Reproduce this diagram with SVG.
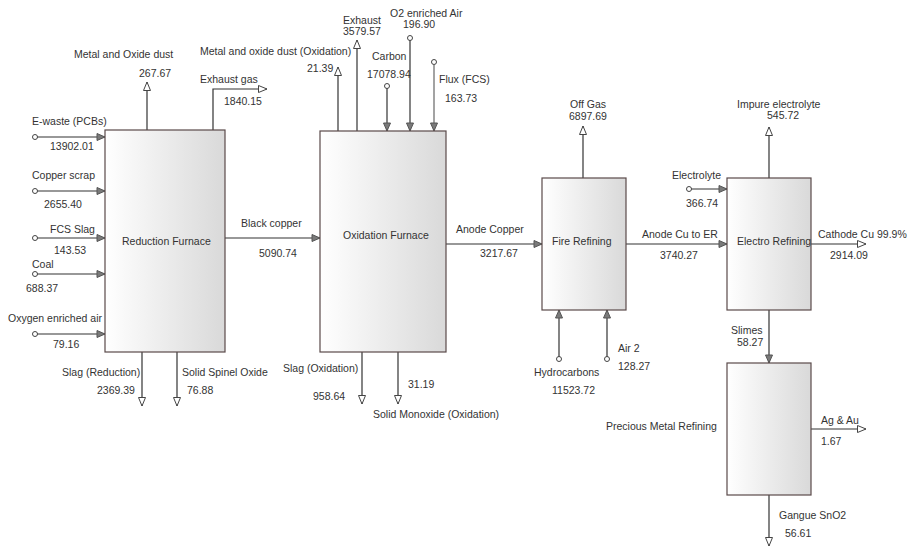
<svg xmlns="http://www.w3.org/2000/svg" width="908" height="547" viewBox="0 0 908 547">
<defs>
<linearGradient id="boxfill" x1="0" y1="0" x2="1" y2="0">
<stop offset="0" stop-color="#ffffff"/>
<stop offset="1" stop-color="#d9d9d9"/>
</linearGradient>
<marker id="inArrow" markerUnits="userSpaceOnUse" markerWidth="10" markerHeight="9" refX="9" refY="4" orient="auto">
<path d="M1,0.5 L9,4 L1,7.5 z" fill="#7a7a7a" stroke="#555" stroke-width="1"/>
</marker>
<marker id="outArrow" markerUnits="userSpaceOnUse" markerWidth="11" markerHeight="10" refX="9.5" refY="4.5" orient="auto">
<path d="M1,1 L9.5,4.5 L1,8 z" fill="#fff" stroke="#444" stroke-width="1"/>
</marker>
</defs>
<style>
text{font-family:"Liberation Sans",Arial,sans-serif;font-size:10.5px;fill:#333}
.box{fill:url(#boxfill);stroke:#5a4a4a;stroke-width:1.2}
.ln{fill:none;stroke:#333;stroke-width:1.2}
.in{marker-end:url(#inArrow)}
.out{marker-end:url(#outArrow)}
.src{fill:#fff;stroke:#444;stroke-width:1}
</style>
<rect width="908" height="547" fill="#fff"/>

<g id="connectors">
<circle class="src" cx="35" cy="137" r="2.5"/>
<path class="ln in" d="M37.5,137 H105"/>
<circle class="src" cx="35" cy="191" r="2.5"/>
<path class="ln in" d="M37.5,191 H105"/>
<circle class="src" cx="35" cy="238" r="2.5"/>
<path class="ln in" d="M37.5,238 H105"/>
<circle class="src" cx="35" cy="274" r="2.5"/>
<path class="ln in" d="M37.5,274 H105"/>
<circle class="src" cx="35" cy="334" r="2.5"/>
<path class="ln in" d="M37.5,334 H105"/>
<path class="ln out" d="M147,130 V82"/>
<path class="ln out" d="M213,130 V89 H267"/>
<path class="ln out" d="M142,352 V406"/>
<path class="ln out" d="M177,352 V406"/>
<path class="ln in" d="M225,238 H320"/>
<path class="ln out" d="M338,131 V67"/>
<path class="ln out" d="M357,131 V40"/>
<circle class="src" cx="387" cy="86" r="2.5"/>
<path class="ln in" d="M387,88.5 V131"/>
<circle class="src" cx="410" cy="38" r="2.5"/>
<path class="ln in" d="M410,40.5 V131"/>
<circle class="src" cx="434" cy="62" r="2.5"/>
<path class="ln in" d="M434,64.5 V131" style="stroke:#666"/>
<path class="ln out" d="M362,352 V404"/>
<path class="ln out" d="M398,352 V404"/>
<path class="ln in" d="M446,244 H542"/>
<path class="ln out" d="M583,178 V126"/>
<circle class="src" cx="559" cy="359" r="2.5"/>
<path class="ln in" d="M559,356.5 V310"/>
<circle class="src" cx="607" cy="359" r="2.5"/>
<path class="ln in" d="M607,356.5 V310"/>
<path class="ln in" d="M626,244 H727"/>
<circle class="src" cx="689" cy="189" r="2.5"/>
<path class="ln in" d="M691.5,189 H727"/>
<path class="ln out" d="M769,178 V127"/>
<path class="ln out" d="M811,244 H866"/>
<path class="ln in" d="M769,310 V363"/>
<path class="ln out" d="M811,429 H866"/>
<path class="ln out" d="M769,495 V546"/>
</g>

<g id="reduction-furnace">
<rect class="box" x="105" y="130" width="120" height="222"/>
<text x="122" y="245">Reduction Furnace</text>
</g>
<g id="oxidation-furnace">
<rect class="box" x="320" y="131" width="126" height="221"/>
<text x="343" y="239">Oxidation Furnace</text>
</g>
<g id="fire-refining">
<rect class="box" x="542" y="178" width="84" height="132"/>
<text x="552" y="245">Fire Refining</text>
</g>
<g id="electro-refining">
<rect class="box" x="727" y="178" width="84" height="132"/>
<text x="737" y="245">Electro Refining</text>
</g>
<g id="precious-metal-refining">
<rect class="box" x="727" y="363" width="84" height="132"/>
<text x="606" y="430">Precious Metal Refining</text>
</g>

<g id="labels">
<text x="32" y="125">E-waste (PCBs)</text>
<text x="50" y="150">13902.01</text>
<text x="32" y="179">Copper scrap</text>
<text x="44" y="208">2655.40</text>
<text x="50" y="233">FCS Slag</text>
<text x="54" y="254">143.53</text>
<text x="32" y="268">Coal</text>
<text x="26" y="292">688.37</text>
<text x="8" y="322">Oxygen enriched air</text>
<text x="53" y="348">79.16</text>
<text x="74" y="58">Metal and Oxide dust</text>
<text x="139" y="77">267.67</text>
<text x="200" y="83">Exhaust gas</text>
<text x="224" y="105">1840.15</text>
<text x="62" y="376">Slag (Reduction)</text>
<text x="97" y="394">2369.39</text>
<text x="182" y="376">Solid Spinel Oxide</text>
<text x="187" y="394">76.88</text>
<text x="241" y="227">Black copper</text>
<text x="259" y="257">5090.74</text>
<text x="200" y="55">Metal and oxide dust (Oxidation)</text>
<text x="307" y="72">21.39</text>
<text x="343" y="24">Exhaust</text>
<text x="343" y="35">3579.57</text>
<text x="372" y="60">Carbon</text>
<text x="367" y="78">17078.94</text>
<text x="390" y="17">O2 enriched Air</text>
<text x="403" y="28">196.90</text>
<text x="439" y="83">Flux (FCS)</text>
<text x="445" y="102">163.73</text>
<text x="283" y="372">Slag (Oxidation)</text>
<text x="313" y="400">958.64</text>
<text x="408" y="388">31.19</text>
<text x="373" y="418">Solid Monoxide (Oxidation)</text>
<text x="456" y="233">Anode Copper</text>
<text x="480" y="257">3217.67</text>
<text x="570" y="108">Off Gas</text>
<text x="569" y="120">6897.69</text>
<text x="534" y="376">Hydrocarbons</text>
<text x="552" y="394">11523.72</text>
<text x="618" y="352">Air 2</text>
<text x="618" y="370">128.27</text>
<text x="642" y="238">Anode Cu to ER</text>
<text x="660" y="259">3740.27</text>
<text x="672" y="179">Electrolyte</text>
<text x="686" y="207">366.74</text>
<text x="737" y="108">Impure electrolyte</text>
<text x="767" y="119">545.72</text>
<text x="818" y="238">Cathode Cu 99.9%</text>
<text x="830" y="259">2914.09</text>
<text x="731" y="334">Slimes</text>
<text x="737" y="346">58.27</text>
<text x="821" y="424">Ag &amp; Au</text>
<text x="821" y="445">1.67</text>
<text x="779" y="519">Gangue SnO2</text>
<text x="785" y="537">56.61</text>
</g>
</svg>
